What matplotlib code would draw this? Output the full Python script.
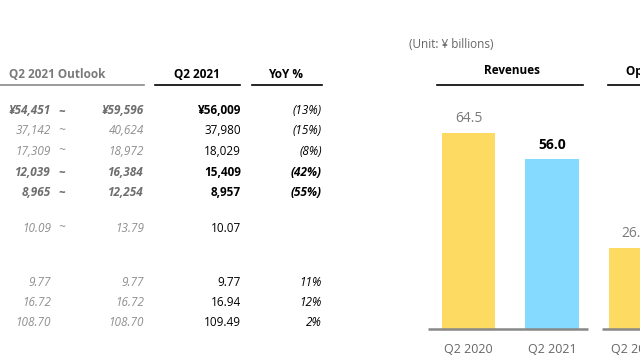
import matplotlib
matplotlib.use('Agg')
import matplotlib.pyplot as plt
from matplotlib.lines import Line2D

plt.rcParams['font.family'] = ['Open Sans', 'DejaVu Sans']

# table data
outlook_low = ['¥54,451', '37,142', '17,309', '12,039', '8,965', '10.09', '9.77', '16.72', '108.70']
outlook_high = ['¥59,596', '40,624', '18,972', '16,384', '12,254', '13.79', '9.77', '16.72', '108.70']
has_range = [True, True, True, True, True, True, False, False, False]
q2_2021 = ['¥56,009', '37,980', '18,029', '15,409', '8,957', '10.07', '9.77', '16.94', '109.49']
yoy = ['(13%)', '(15%)', '(8%)', '(42%)', '(55%)', '', '11%', '12%', '2%']
bold_rows = [0, 3, 4]

# bar data
bar_cats = ['Q2 2020', 'Q2 2021', 'Q2 2020', 'Q2 2021']
bar_vals = [64.5, 56.0, 26.5, 15.4]
bar_colors = ['#FDDB63', '#84DBFF', '#FDDB63', '#84DBFF']

W, H = 640, 360
fig = plt.figure(figsize=(6.4, 3.6), dpi=100)


def fx(x):
    return x / W


def fy(y):
    return 1 - y / H


def hline(x0, x1, y, color, lw=1.2):
    fig.add_artist(Line2D([fx(x0), fx(x1)], [fy(y), fy(y)], color=color, lw=lw,
                          transform=fig.transFigure))


# table headers
fig.text(fx(57), fy(75), 'Q2 2021 Outlook', ha='center', va='center', fontsize=8.5,
         fontweight='bold', color='#7a7a7a')
hline(-5, 144, 85, '#8a8a8a')
fig.text(fx(197), fy(75), 'Q2 2021', ha='center', va='center', fontsize=8.5,
         fontweight='bold', color='black')
hline(155, 240, 85, 'black')
fig.text(fx(286), fy(75), 'YoY %', ha='center', va='center', fontsize=8.5,
         fontweight='bold', color='black')
hline(252, 322, 85, 'black')

row_y = [111, 131, 151, 172, 192, 228, 283, 303, 323]
fs = 8.5
for i, y in enumerate(row_y):
    b = 'bold' if i in bold_rows else 'normal'
    gray = '#6e6e6e' if i in bold_rows else '#8f8f8f'
    fig.text(fx(51), fy(y), outlook_low[i], ha='right', va='center', fontsize=fs,
             style='italic', fontweight=b, color=gray)
    if has_range[i]:
        fig.text(fx(62), fy(y), '~', ha='center', va='center', fontsize=fs,
                 style='italic', fontweight=b, color=gray)
    fig.text(fx(144), fy(y), outlook_high[i], ha='right', va='center', fontsize=fs,
             style='italic', fontweight=b, color=gray)
    fig.text(fx(241), fy(y), q2_2021[i], ha='right', va='center', fontsize=fs,
             fontweight=b, color='black')
    yb = 'bold' if i in [3, 4] else 'normal'
    fig.text(fx(322), fy(y), yoy[i], ha='right', va='center', fontsize=fs,
             style='italic', fontweight=yb, color='black')

# chart
fig.text(fx(409), fy(44), '(Unit: ¥ billions)', ha='left', va='center', fontsize=8.5,
         color='#666666')
fig.text(fx(512), fy(71), 'Revenues', ha='center', va='center', fontsize=8.5,
         fontweight='bold', color='black')
hline(437, 583, 85, 'black')
fig.text(fx(626), fy(71), 'Operating Income', ha='left', va='center', fontsize=8.5,
         fontweight='bold', color='black')
hline(608, 700, 85, 'black')

# axes: pixel -> data, 83.5 px per category, first bar centred at 468.5
x_left, x_right = 400, 640
base_y, top_y = 329, 90
ax = fig.add_axes([fx(x_left), fy(base_y), fx(x_right - x_left), (base_y - top_y) / H])
pos = list(range(len(bar_vals)))
bars = ax.bar(pos, bar_vals, width=0.635, color=bar_colors)
labels = ax.bar_label(bars, labels=[f'{v:.1f}' for v in bar_vals], padding=5, fontsize=10)
for k, t in enumerate(labels):
    if k % 2 == 1:
        t.set_fontweight('bold')
        t.set_color('black')
    else:
        t.set_color('#7a7a7a')
ax.hlines(0, -0.485, 1.43, color='#888888', lw=1.8, clip_on=False)
ax.hlines(0, 1.60, 3.6, color='#888888', lw=1.8, clip_on=False)
ax.set_xticks(pos, bar_cats)
ax.tick_params(axis='x', length=0, pad=10, labelsize=9, labelcolor='#666666')
ax.set_yticks([])
ax.set_xlim((x_left - 468.5) / 83.5, (x_right - 468.5) / 83.5)
ax.set_ylim(0, (base_y - top_y) / 3.04)
for s in ax.spines.values():
    s.set_visible(False)

fig.savefig('out.png', dpi=100)
